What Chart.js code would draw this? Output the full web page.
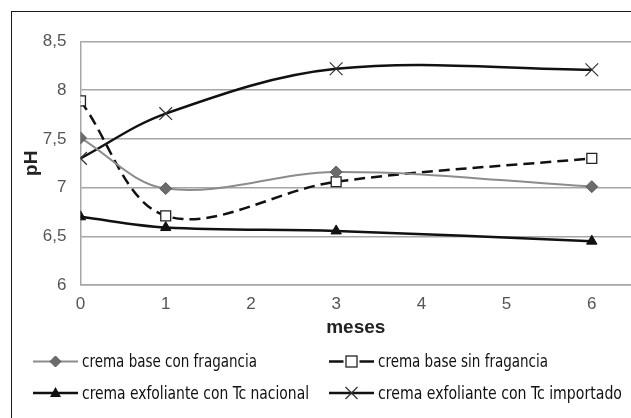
<!DOCTYPE html>
<html>
<head>
<meta charset="utf-8">
<script src="https://cdn.jsdelivr.net/npm/chart.js@4.4.1/dist/chart.umd.min.js"></script>
<style>
  html, body { margin: 0; padding: 0; background: #fff; overflow: hidden; }
  #wrap { position: relative; width: 631px; height: 418px; overflow: hidden; background: #fff; }
  #frame {
    position: absolute; left: 11px; top: 11px; width: 700px; height: 500px;
    border-left: 1.5px solid #1a1a1a; border-top: 1.5px solid #1a1a1a;
    pointer-events: none;
  }
  canvas { position: absolute; left: 0; top: 0; }
  #legend { position: absolute; left: 0; top: 0; pointer-events: none; }
  #legend text { font-family: "Liberation Sans Narrow", "DejaVu Sans Condensed", sans-serif; font-size: 17px; fill: #111; }
</style>
</head>
<body>
<div id="wrap">
  <canvas id="chart" width="631" height="418"></canvas>
  <div id="frame"></div>
  <svg id="legend" width="631" height="418"></svg>
</div>
<script>
// chart data
const months = [0, 1, 3, 6];
const conFragancia = [7.51, 6.99, 7.16, 7.01];
const sinFragancia = [7.89, 6.71, 7.06, 7.30];
const tcNacional = [6.70, 6.59, 6.555, 6.45];
const tcImportado = [7.30, 7.76, 8.22, 8.21];
const seriesNames = [
  'crema base con fragancia',
  'crema base sin fragancia',
  'crema exfoliante con Tc nacional',
  'crema exfoliante con Tc importado',
];
const xTicks = [0, 1, 2, 3, 4, 5, 6];
const yTicks = [6, 6.5, 7, 7.5, 8, 8.5];

const toPoints = (values) => values.map((v, i) => ({ x: months[i], y: v }));

const tickFont = { family: 'Liberation Sans, Arial, sans-serif', size: 17 };
const titleFont = { family: 'Liberation Sans, Arial, sans-serif', size: 19, weight: 'bold' };
const gridColor = '#a6a6a6';

const datasets = [
  {
    label: seriesNames[0],
    data: toPoints(conFragancia),
    borderColor: '#8c8c8c',
    borderWidth: 2,
    pointStyle: 'rectRot',
    pointRadius: 6,
    pointBackgroundColor: '#6b6b6b',
    pointBorderColor: '#5a5a5a',
    pointBorderWidth: 1,
  },
  {
    label: seriesNames[1],
    data: toPoints(sinFragancia),
    borderColor: '#111',
    borderWidth: 2.5,
    borderDash: [11, 6],
    pointStyle: 'rect',
    pointRadius: 7,
    pointBackgroundColor: '#fff',
    pointBorderColor: '#222',
    pointBorderWidth: 1.3,
  },
  {
    label: seriesNames[2],
    data: toPoints(tcNacional),
    borderColor: '#111',
    borderWidth: 2.5,
    pointStyle: 'triangle',
    pointRadius: 6,
    pointBackgroundColor: '#111',
    pointBorderColor: '#111',
    pointBorderWidth: 1,
  },
  {
    label: seriesNames[3],
    data: toPoints(tcImportado),
    borderColor: '#111',
    borderWidth: 2.5,
    pointStyle: 'crossRot',
    pointRadius: 9,
    pointBorderColor: '#333',
    pointBorderWidth: 1.2,
  },
];

new Chart(document.getElementById('chart'), {
  type: 'line',
  data: { datasets },
  options: {
    responsive: false,
    animation: false,
    layout: { autoPadding: false, padding: { left: 0, top: 41.5, right: 0, bottom: 77 } },
    elements: { line: { tension: 0.35, fill: false } },
    plugins: { legend: { display: false }, tooltip: { enabled: false } },
    scales: {
      x: {
        type: 'linear',
        min: 0,
        max: 6.46,
        afterBuildTicks: (scale) => { scale.ticks = xTicks.map((v) => ({ value: v })); },
        afterFit: (scale) => {
          scale.height = 56;
          scale.paddingLeft = 0;
          scale.paddingRight = 0;
        },
        grid: { display: false, drawTicks: false },
        border: { display: true, color: gridColor, width: 1.5 },
        ticks: { font: tickFont, color: '#555', padding: 9, callback: (v) => String(v) },
        title: { display: true, text: 'meses', font: titleFont, color: '#222', padding: { top: 0, bottom: 2 } },
      },
      y: {
        min: 6,
        max: 8.5,
        afterBuildTicks: (scale) => { scale.ticks = yTicks.map((v) => ({ value: v })); },
        afterFit: (scale) => {
          scale.width = 80.5;
          scale.paddingTop = 0;
          scale.paddingBottom = 0;
        },
        grid: { color: gridColor, lineWidth: 1.5, drawTicks: false },
        border: { display: true, color: gridColor, width: 1.5 },
        ticks: { font: tickFont, color: '#555', padding: 14, callback: (v) => String(v).replace('.', ',') },
        title: { display: true, text: 'pH', font: titleFont, color: '#222', padding: { top: 20, bottom: 0 } },
      },
    },
  },
});

// legend: line + marker + label, two columns, two rows
const svgNS = 'http://www.w3.org/2000/svg';
const legend = document.getElementById('legend');
function el(name, attrs) {
  const node = document.createElementNS(svgNS, name);
  for (const k in attrs) node.setAttribute(k, attrs[k]);
  legend.appendChild(node);
  return node;
}
const legendItems = [
  { x: 33, y: 361.5, w: 175 },
  { x: 329, y: 361.5, w: 170 },
  { x: 33, y: 393, w: 227 },
  { x: 329, y: 393, w: 244 },
];
legendItems.forEach((item, i) => {
  const ds = datasets[i];
  const cx = item.x + 22.5;
  const cy = item.y;
  if (i === 1) {
    el('line', { x1: item.x, y1: cy, x2: cx - 8, y2: cy, stroke: ds.borderColor, 'stroke-width': ds.borderWidth });
    el('line', { x1: cx + 8, y1: cy, x2: item.x + 45, y2: cy, stroke: ds.borderColor, 'stroke-width': ds.borderWidth });
    el('rect', { x: cx - 5.5, y: cy - 5.5, width: 11, height: 11, fill: '#fff', stroke: '#222', 'stroke-width': 1.3 });
  } else {
    el('line', { x1: item.x, y1: cy, x2: item.x + 45, y2: cy, stroke: ds.borderColor, 'stroke-width': ds.borderWidth });
    if (i === 0) {
      el('polygon', { points: `${cx},${cy - 5.5} ${cx + 5.5},${cy} ${cx},${cy + 5.5} ${cx - 5.5},${cy}`, fill: '#6b6b6b', stroke: '#5a5a5a' });
    } else if (i === 2) {
      el('polygon', { points: `${cx},${cy - 6} ${cx + 5.5},${cy + 4} ${cx - 5.5},${cy + 4}`, fill: '#111' });
    } else {
      el('line', { x1: cx - 6, y1: cy - 6, x2: cx + 6, y2: cy + 6, stroke: '#333', 'stroke-width': 1.2 });
      el('line', { x1: cx - 6, y1: cy + 6, x2: cx + 6, y2: cy - 6, stroke: '#333', 'stroke-width': 1.2 });
    }
  }
  const t = el('text', {
    x: item.x + 49, y: cy + 5.5,
    textLength: item.w, lengthAdjust: 'spacingAndGlyphs',
  });
  t.textContent = ds.label;
});
</script>
</body>
</html>
